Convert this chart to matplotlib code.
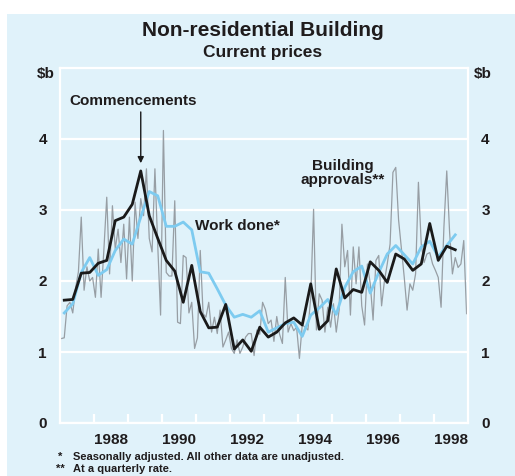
import numpy as np
import matplotlib
matplotlib.use("Agg")
from matplotlib import pyplot as plt
from matplotlib.patches import Rectangle

plt.rcParams['font.family'] = ['Liberation Sans', 'DejaVu Sans']
plt.rcParams['font.weight'] = 'bold'

# quarterly data, 1987 Q1 to 1998 Q3 ($b)
commencements = [1.73, 1.74, 2.11, 2.12, 2.25, 2.29, 2.85, 2.90, 3.08, 3.55,
                 2.92, 2.60, 2.29, 2.14, 1.70, 2.22, 1.57, 1.34, 1.35, 1.67,
                 1.04, 1.17, 1.01, 1.35, 1.21, 1.28, 1.41, 1.48, 1.38, 1.96,
                 1.32, 1.44, 2.17, 1.76, 1.88, 1.84, 2.27, 2.15, 1.98, 2.38,
                 2.31, 2.15, 2.24, 2.81, 2.29, 2.49, 2.44]
work_done = [1.55, 1.68, 2.12, 2.33, 2.08, 2.16, 2.43, 2.59, 2.52, 2.90,
             3.26, 3.20, 2.77, 2.77, 2.83, 2.72, 2.13, 2.11, 1.89, 1.66,
             1.49, 1.53, 1.49, 1.58, 1.28, 1.34, 1.40, 1.42, 1.22, 1.52,
             1.62, 1.74, 1.53, 1.91, 2.13, 2.21, 1.83, 2.12, 2.38, 2.50,
             2.37, 2.24, 2.48, 2.56, 2.34, 2.50, 2.65]

# monthly building approvals at a quarterly rate, Jan 1987 to Dec 1998 ($b)
approvals = [
    1.19, 1.20, 1.65, 1.70, 1.55, 1.90, 2.13, 2.90, 1.87, 2.20, 2.00, 2.05,  # 1987
    1.77, 2.45, 1.77, 2.45, 3.18, 2.10, 3.06, 2.45, 2.73, 2.26, 2.80, 2.03,  # 1988
    2.90, 2.00, 3.11, 2.60, 3.16, 2.92, 3.58, 2.60, 2.41, 3.58, 2.50, 1.52,  # 1989
    4.12, 2.12, 2.07, 2.07, 3.13, 1.42, 1.40, 2.36, 2.33, 1.55, 1.70, 1.05,  # 1990
    1.20, 2.43, 1.54, 1.49, 1.70, 1.28, 1.49, 1.26, 1.59, 1.07, 1.17, 1.28,  # 1991
    1.05, 0.98, 1.17, 0.98, 1.07, 1.21, 1.26, 1.26, 0.95, 1.31, 1.25, 1.70,  # 1992
    1.60, 1.40, 1.45, 1.15, 1.50, 1.25, 1.12, 2.05, 1.28, 1.40, 1.30, 1.35,  # 1993
    0.91, 1.38, 1.35, 1.31, 1.77, 3.01, 1.31, 1.82, 1.73, 1.28, 1.63, 1.35,  # 1994
    1.68, 1.28, 1.59, 2.80, 2.20, 2.43, 1.52, 2.48, 1.96, 2.48, 1.65, 1.38,  # 1995
    2.24, 1.96, 1.45, 2.29, 2.36, 1.65, 2.00, 2.24, 2.52, 3.53, 3.60, 2.86,  # 1996
    2.45, 2.05, 1.59, 1.96, 1.87, 2.10, 3.39, 2.52, 2.26, 2.38, 2.40, 2.24,  # 1997
    2.15, 2.05, 1.63, 2.76, 3.55, 2.69, 2.10, 2.33, 2.19, 2.24, 2.57, 1.54,  # 1998
]

year_labels = ['1988', '1990', '1992', '1994', '1996', '1998']

tq = 1987 + 0.125 + 0.25 * np.arange(len(commencements))
tm = 1987 + (np.arange(len(approvals)) + 0.5) / 12.0

bg = '#e0f2fa'
txt = '#1f1c1d'

fig = plt.figure(figsize=(5.15, 4.76), dpi=100)
fig.patch.set_facecolor('white')
fig.patches.append(Rectangle((7 / 515, 0), 1, 1 - 14 / 476, transform=fig.transFigure,
                             facecolor=bg, edgecolor='none', zorder=-10))

ax = fig.add_axes([60 / 515, 53 / 476, 408 / 515, 355 / 476])
ax.set_facecolor(bg)

ax.plot(tm, approvals, color='#979ea4', lw=0.9, zorder=2)
ax.plot(tq, work_done, color='#7dcbf0', lw=2.0, zorder=3)
ax.plot(tq, commencements, color='#1a1a1a', lw=2.0, zorder=4)

ax.set_xlim(1987, 1999)
ax.set_ylim(0, 5)

# frame and grid in white
for s in ax.spines.values():
    s.set_color('white')
    s.set_linewidth(1.6)
ax.set_yticks([0, 1, 2, 3, 4])
ax.grid(axis='y', color='white', lw=1.6, zorder=1)
ax.tick_params(axis='y', left=False, right=False, labelleft=True, labelright=True,
               labelsize=11, labelcolor=txt, pad=6)

ax.set_xticks(np.arange(1988, 1999))
ax.set_xticklabels([])
ax.set_xticks([int(y) + 0.5 for y in year_labels], minor=True)
ax.set_xticklabels(year_labels, minor=True)
ax.tick_params(axis='x', which='major', direction='in', length=6.5, width=1.6, color='white')
ax.tick_params(axis='x', which='minor', length=0, labelsize=11, labelcolor=txt, pad=7)

# annotations
ax.text(1989.15, 4.54, 'Commencements', ha='center', va='center', fontsize=11,
        fontweight='bold', color=txt)
ax.annotate('', xy=(1989.375, 3.62), xytext=(1989.375, 4.42),
            arrowprops=dict(arrowstyle='-|>', color='#1a1a1a', lw=1.0, mutation_scale=9))
ax.text(1990.97, 2.78, 'Work done*', ha='left', va='center', fontsize=11,
        fontweight='bold', color=txt)
ax.text(1995.32, 3.52, 'Building\napprovals**', ha='center', va='center', fontsize=11,
        fontweight='bold', color=txt, linespacing=1.05)

fig.text(263 / 515, 1 - 31 / 476, 'Non-residential Building', ha='center', va='center',
         fontsize=15, fontweight='bold', color=txt)
fig.text(263 / 515, 1 - 52 / 476, 'Current prices', ha='center', va='center',
         fontsize=12.5, fontweight='bold', color=txt)
fig.text(46 / 515, 1 - 74 / 476, '$b', ha='center', va='center', fontsize=11, color=txt)
fig.text(483 / 515, 1 - 74 / 476, '$b', ha='center', va='center', fontsize=11, color=txt)

# footnotes
fig.text(58 / 515, 1 - 457 / 476, '*', ha='left', va='center', fontsize=8, color=txt)
fig.text(73 / 515, 1 - 457 / 476, 'Seasonally adjusted. All other data are unadjusted.',
         ha='left', va='center', fontsize=8, color=txt)
fig.text(56 / 515, 1 - 469 / 476, '**', ha='left', va='center', fontsize=8, color=txt)
fig.text(73 / 515, 1 - 469 / 476, 'At a quarterly rate.', ha='left', va='center',
         fontsize=8, color=txt)

fig.savefig('out.png', dpi=100, facecolor=fig.get_facecolor())
